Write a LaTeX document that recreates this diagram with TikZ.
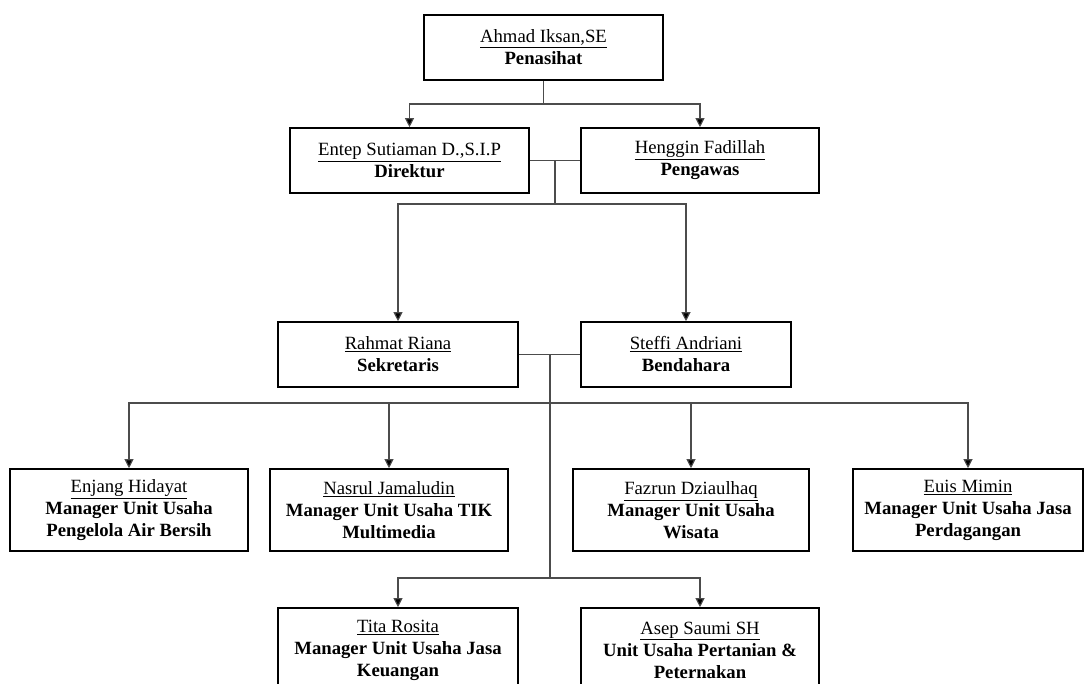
\documentclass[tikz,border=0pt]{standalone}
\usepackage{fontspec}
\setmainfont{Liberation Serif}
\usetikzlibrary{arrows.meta}
\tikzset{
  box/.style={draw=black, line width=1.6pt, fill=white, inner sep=0pt, align=center,
    font=\fontsize{18.7}{22}\selectfont},
  conn/.style={draw=black!70, line width=1.1pt},
  arr/.style={conn, -{Triangle[length=9pt,width=9pt,fill=black]}},
}
\newcommand{\nm}[1]{\underline{#1}}
\begin{document}
\begin{tikzpicture}[x=1pt,y=-1pt]
\useasboundingbox (0,0) rectangle (1084,684);
\clip (0,0) rectangle (1084,684);
% level 0
\node[box, minimum width=239pt, minimum height=65pt] (top) at (543.5,47.5)
  {\nm{Ahmad Iksan,SE}\\\textbf{Penasihat}};
% level 1
\node[box, minimum width=239pt, minimum height=65pt] (dir) at (409.5,160.5)
  {\nm{Entep Sutiaman D.,S.I.P}\\\textbf{Direktur}};
\node[box, minimum width=238pt, minimum height=65pt] (peng) at (700,160.5)
  {\nm{Henggin Fadillah}\\\textbf{Pengawas}};
% level 2
\node[box, minimum width=240pt, minimum height=65pt] (sek) at (398,354.5)
  {\nm{Rahmat Riana}\\\textbf{Sekretaris}};
\node[box, minimum width=210pt, minimum height=65pt] (bend) at (686,354.5)
  {\nm{Steffi Andriani}\\\textbf{Bendahara}};
% level 3
\node[box, minimum width=238pt, minimum height=82pt] (enj) at (129,510)
  {\nm{Enjang Hidayat}\\\textbf{Manager Unit Usaha}\\\textbf{Pengelola Air Bersih}};
\node[box, minimum width=238pt, minimum height=82pt] (nas) at (389,510)
  {\nm{Nasrul Jamaludin}\\\textbf{Manager Unit Usaha TIK}\\\textbf{Multimedia}};
\node[box, minimum width=236pt, minimum height=82pt] (faz) at (691,510)
  {\nm{Fazrun Dziaulhaq}\\\textbf{Manager Unit Usaha}\\\textbf{Wisata}};
\node[box, minimum width=230pt, minimum height=82pt] (euis) at (968,510)
  {\nm{Euis Mimin}\\\textbf{Manager Unit Usaha Jasa}\\\textbf{Perdagangan}};
% level 4
\node[box, minimum width=240pt, minimum height=84pt] (tita) at (398,650)
  {\nm{Tita Rosita}\\\textbf{Manager Unit Usaha Jasa}\\\textbf{Keuangan}};
\node[box, minimum width=238pt, minimum height=84pt] (asep) at (700,650)
  {\nm{Asep Saumi SH}\\\textbf{Unit Usaha Pertanian \&}\\\textbf{Peternakan}};
% junctions
\coordinate (j1) at (543.5,104);
\coordinate (j2) at (555,160.5);
\coordinate (j3) at (555,204);
\coordinate (j4) at (550,354.5);
\coordinate (j5) at (550,403);
\coordinate (j6) at (550,578);
% connectors
\draw[conn] (top.south) -- (j1);
\draw[arr] (j1) -| (dir.north);
\draw[arr] (j1) -| (peng.north);
\draw[conn] (dir.east) -- (peng.west);
\draw[conn] (j2) -- (j3);
\draw[arr] (j3) -| (sek.north);
\draw[arr] (j3) -| (bend.north);
\draw[conn] (sek.east) -- (bend.west);
\draw[conn] (j4) -- (j6);
\draw[arr] (j5) -| (enj.north);
\draw[arr] (j5) -| (nas.north);
\draw[arr] (j5) -| (faz.north);
\draw[arr] (j5) -| (euis.north);
\draw[arr] (j6) -| (tita.north);
\draw[arr] (j6) -| (asep.north);
\end{tikzpicture}
\end{document}
